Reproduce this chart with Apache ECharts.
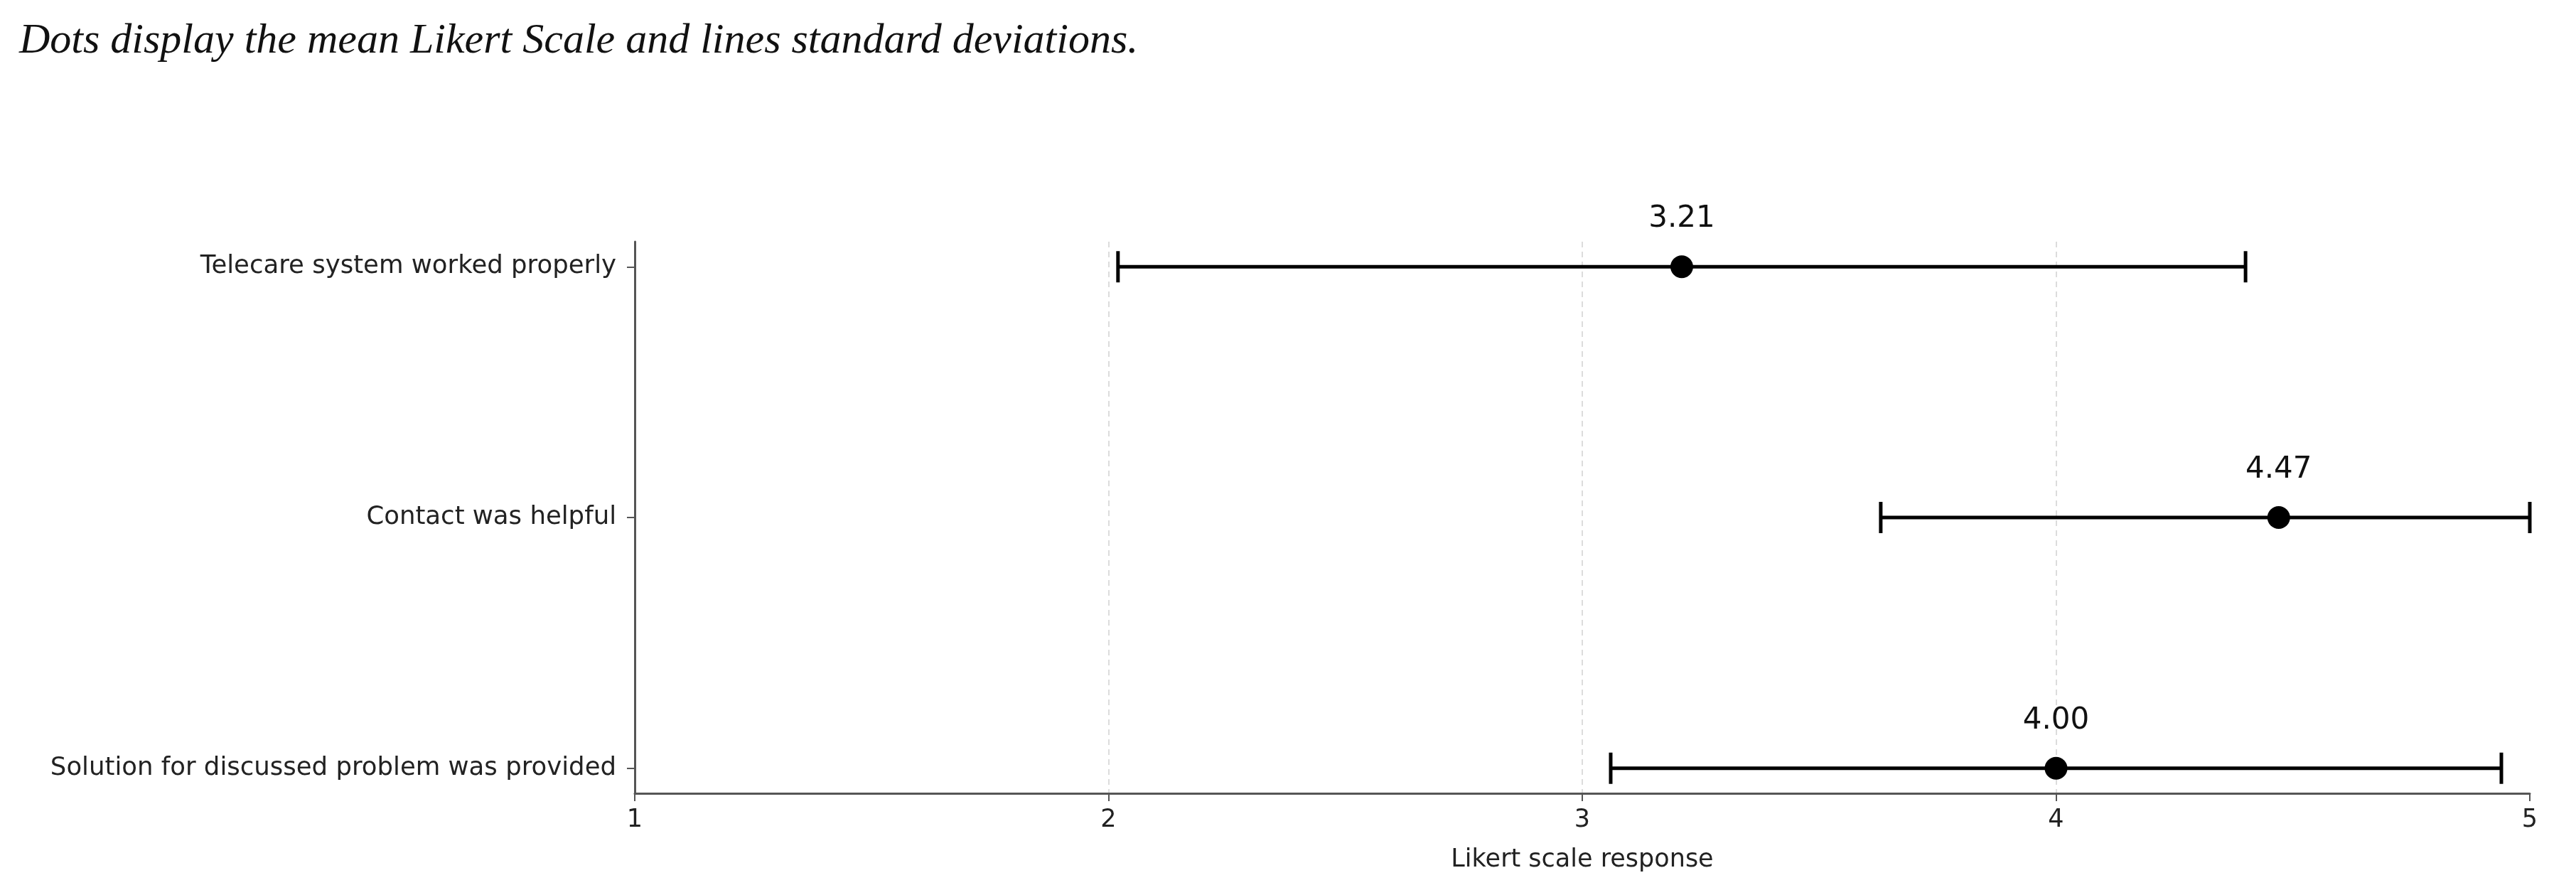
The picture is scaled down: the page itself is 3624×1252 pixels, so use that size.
<!DOCTYPE html>
<html>
<head>
<meta charset="utf-8">
<script src="https://cdn.jsdelivr.net/npm/echarts@6/dist/echarts.min.js"></script>
<style>
  html, body {margin: 0; padding: 0; background: #fff;}
  #chart {width: 3624px; height: 1252px;}
</style>
</head>
<body>
<div id="chart"></div>
<script>
// bottom to top, as on the y axis
const questions = [
  'Solution for discussed problem was provided',
  'Contact was helpful',
  'Telecare system worked properly'
]
const means = [4.00, 4.47, 3.21]
const stdDevs = [0.94, 0.84, 1.19]
const xTicks = [1, 2, 3, 4, 5]

const xMin = xTicks[0]
const xMax = xTicks[xTicks.length - 1]
const rowIdx = questions.map((q, i) => i)

const meanData = means.map((m, i) => [m, i])
const errData = means.map((m, i) => [i, Math.max(xMin, m - stdDevs[i]), Math.min(xMax, m + stdDevs[i])])

const labelFont = 'DejaVu Sans'
const axisColor = '#555'

const chart = echarts.init(document.getElementById('chart'))

chart.setOption({
  animation: false,
  backgroundColor: '#fff',
  title: {
    text: 'Dots display the mean Likert Scale and lines standard deviations.',
    left: 22,
    top: 23,
    textStyle: {
      fontFamily: 'Liberation Serif',
      fontStyle: 'italic',
      fontWeight: 'normal',
      fontSize: 60,
      color: '#111'
    }
  },
  grid: {left: 893, right: 65, top: 340, bottom: 136},
  xAxis: {
    type: 'value',
    min: xMin,
    max: xMax,
    interval: 1,
    name: 'Likert scale response',
    nameLocation: 'middle',
    nameGap: 76,
    nameTextStyle: {fontFamily: labelFont, fontSize: 35, color: '#222'},
    axisLine: {onZero: false, lineStyle: {color: axisColor, width: 3}},
    axisTick: {show: true, length: 11, lineStyle: {color: axisColor, width: 2}},
    axisLabel: {fontFamily: labelFont, fontSize: 35, color: '#222', margin: 20},
    splitLine: {
      show: true,
      showMinLine: false,
      showMaxLine: false,
      lineStyle: {color: '#dcdcdc', width: 2, type: [8, 6]}
    }
  },
  yAxis: {
    type: 'value',
    min: -0.1,
    max: questions.length - 0.9,
    axisLine: {show: true, onZero: false, lineStyle: {color: axisColor, width: 3}},
    axisTick: {show: true, length: 11, customValues: rowIdx, lineStyle: {color: axisColor, width: 2}},
    axisLabel: {
      fontFamily: labelFont,
      fontSize: 35.5,
      color: '#222',
      margin: 26,
      customValues: rowIdx,
      formatter: v => questions[Math.round(v)]
    },
    splitLine: {show: false}
  },
  series: [
    {
      type: 'custom',
      data: errData,
      encode: {x: [1, 2], y: 0},
      z: 2,
      renderItem: (params, api) => {
        const y = api.value(0)
        const a = api.coord([api.value(1), y])
        const b = api.coord([api.value(2), y])
        const capH = 22
        const style = {stroke: '#000', lineWidth: 5}
        return {
          type: 'group',
          children: [
            {type: 'line', shape: {x1: a[0], y1: a[1], x2: b[0], y2: b[1]}, style},
            {type: 'line', shape: {x1: a[0], y1: a[1] - capH, x2: a[0], y2: a[1] + capH}, style},
            {type: 'line', shape: {x1: b[0], y1: b[1] - capH, x2: b[0], y2: b[1] + capH}, style}
          ]
        }
      }
    },
    {
      type: 'scatter',
      data: meanData,
      z: 3,
      symbol: 'circle',
      symbolSize: 32,
      itemStyle: {color: '#000', opacity: 1},
      label: {
        show: true,
        position: 'top',
        distance: 30,
        fontFamily: labelFont,
        fontSize: 42,
        color: '#111',
        formatter: p => p.value[0].toFixed(2)
      }
    }
  ]
})
</script>
</body>
</html>
